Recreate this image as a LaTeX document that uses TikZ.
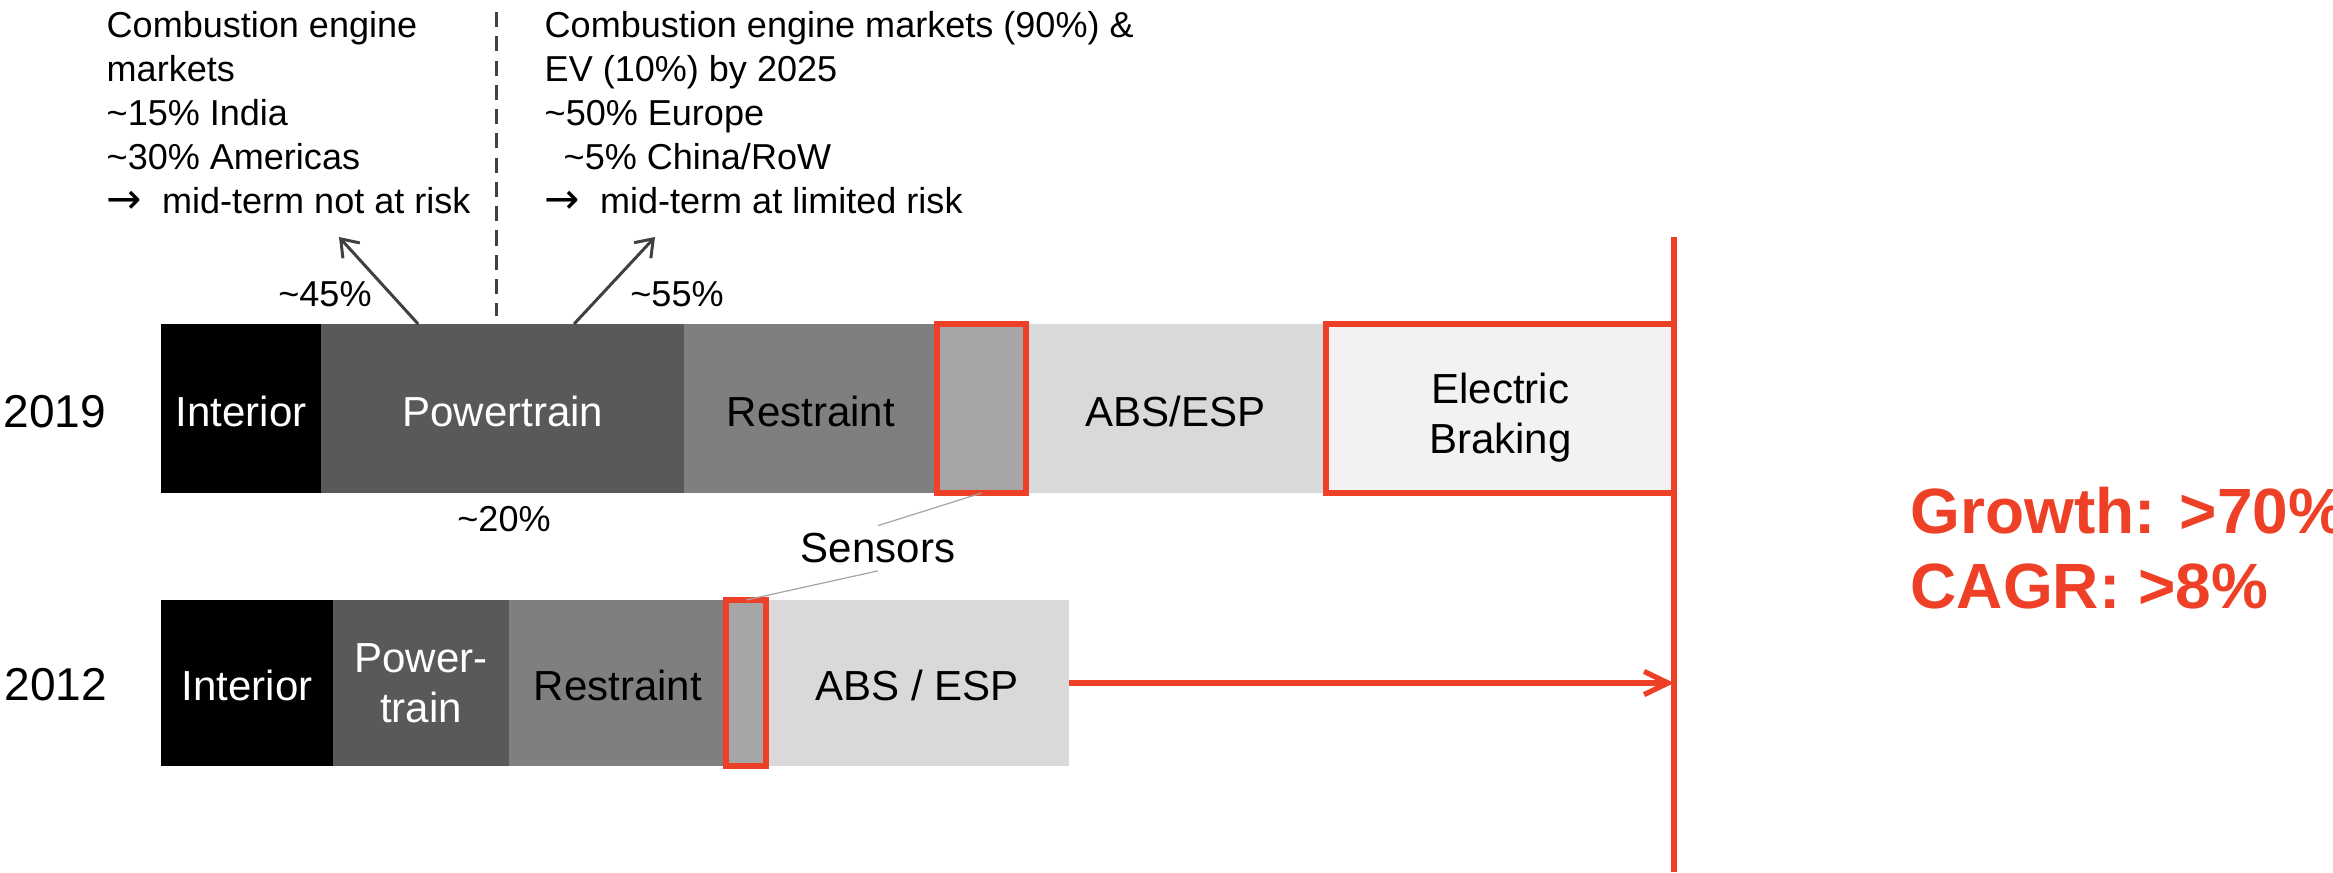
\documentclass[tikz,border=0pt]{standalone}
\usepackage{fontspec}
\setmainfont{Liberation Sans}
\newfontfamily\arrowfont{DejaVu Sans}
\usetikzlibrary{arrows.meta,calc}
\definecolor{accent}{RGB}{238,64,38}
\definecolor{darkgray}{RGB}{64,64,64}
\definecolor{leadgray}{RGB}{166,166,166}
\definecolor{segA}{RGB}{89,89,89}
\definecolor{segB}{RGB}{127,127,127}
\definecolor{segC}{RGB}{166,166,166}
\definecolor{segD}{RGB}{217,217,217}
\definecolor{segE}{RGB}{242,242,242}
\newcommand\bigarrow{{\arrowfont\fontsize{12pt}{12pt}\selectfont →}\hspace{0.1cm}\ }
\tikzset{
  seg/.style={inner sep=0pt, outer sep=0pt, anchor=west, align=center,
    font=\fontsize{11.95pt}{14.2pt}\selectfont},
  oneline/.style={text height=0.40cm, text depth=0.05cm},
  hA/.style={minimum height=1.69cm},
  hB/.style={minimum height=1.66cm},
  note/.style={inner sep=0pt, anchor=north west, align=left,
    font=\fontsize{10.25pt}{12.5pt}\selectfont},
  pct/.style={inner sep=0pt, anchor=base, font=\fontsize{10.25pt}{12.5pt}\selectfont},
  year/.style={inner sep=0pt, anchor=base west, font=\fontsize{13.1pt}{15pt}\selectfont},
  redbox/.style={draw=accent, line width=1.7pt},
  redline/.style={draw=accent, line width=1.5pt},
  grayarrow/.style={draw=darkgray, line width=0.85pt, -{Straight Barb[length=4.5pt,width=6.5pt]}},
  divider/.style={draw=darkgray, line width=0.85pt, dash pattern=on 4.3pt off 2.6pt},
  leader/.style={draw=leadgray, line width=0.35pt},
  growth/.style={inner sep=0pt, anchor=north west, align=left, text=accent,
    font=\fontsize{18.2pt}{21.5pt}\selectfont\bfseries}
}
\begin{document}
\begin{tikzpicture}[x=0.01cm,y=-0.01cm]
\useasboundingbox (0,0) rectangle (2333,872);

% 2019 bar
\node[seg,hA,oneline,fill=black,text=white,minimum width=1.60cm] (in19) at (161,408.5) {Interior};
\node[seg,hA,oneline,fill=segA,text=white,minimum width=3.63cm] (pt19) at (in19.east) {Powertrain};
\node[seg,hA,oneline,fill=segB,minimum width=2.53cm] (re19) at (pt19.east) {Restraint};
\node[seg,hA,fill=segC,minimum width=0.88cm] (se19) at (re19.east) {};
\node[seg,hA,oneline,fill=segD,minimum width=3.00cm] (ab19) at (se19.east) {ABS/ESP};
\node[seg,hA,fill=segE,minimum width=3.49cm] (eb19) at (ab19.east) {\rule{0pt}{0.487cm}Electric\\Braking};

% 2012 bar
\node[seg,hB,oneline,fill=black,text=white,minimum width=1.72cm] (in12) at (161,683) {Interior};
\node[seg,hB,fill=segA,text=white,minimum width=1.76cm] (pt12) at (in12.east) {Power-\\train};
\node[seg,hB,oneline,fill=segB,minimum width=2.17cm] (re12) at (pt12.east) {Restraint};
\node[seg,hB,fill=segC,minimum width=0.40cm] (se12) at (re12.east) {};
\node[seg,hB,oneline,fill=segD,minimum width=3.02cm] (ab12) at (se12.east) {ABS / ESP};

% red highlights
\draw[redbox] (se19.north west) rectangle (se19.south east);
\draw[redbox] (se12.north west) rectangle (se12.south east);
\draw[redbox] (eb19.north east) -- (eb19.north west) -- (eb19.south west) -- (eb19.south east);

% vertical red line and arrow
\coordinate (vtop) at (1674,237);
\coordinate (vbot) at (1674,872);
\draw[redline, line width=1.6pt] (vtop) -- (vbot);
\draw[redline, -{Straight Barb[length=6.8pt,width=6.6pt]}] (ab12.east) -- (ab12.east -| vtop);

% year labels
\node[year] (y19) at (3,427.7) {2019};
\node[year] (y12) at (4,700) {2012};

% sensors label
\node[inner sep=2pt, anchor=base, font=\fontsize{11.95pt}{14.2pt}\selectfont] (sens) at (878,562.7) {Sensors};
\draw[leader] (se19.south) -- (sens.north);
\draw[leader] (sens.south) -- (se12.north);

% top notes
\node[note] (nL) at (106,10.4) {Combustion engine\\markets\\\textasciitilde15\% India\\\textasciitilde30\% Americas\\\bigarrow mid-term not at risk};
\node[note] (nR) at (544,10.4) {Combustion engine markets (90\%) \&\\EV (10\%) by 2025\\\textasciitilde50\% Europe\\\hspace*{0.19cm}\textasciitilde5\% China/RoW\\\bigarrow mid-term at limited risk};

% divider
\coordinate (dtop) at (496,12);
\coordinate (dbot) at (496,316);
\draw[divider] (dtop) -- (dbot);

% split arrows
\coordinate (tipL) at (339,237);
\coordinate (tipR) at (655,237);
\draw[grayarrow] ($(pt19.north west)+(97,0)$) -- (tipL);
\draw[grayarrow] ($(pt19.north west)+(253,0)$) -- (tipR);
\node[pct] (p45) at (325,306) {\textasciitilde45\%};
\node[pct] (p55) at (677,306) {\textasciitilde55\%};
\node[pct] (p20) at (504,531.7) {\textasciitilde20\%};

% growth
\node[growth] (gr) at (1910,486) {Growth: >70\%\\CAGR: >8\%};
\end{tikzpicture}
\end{document}
